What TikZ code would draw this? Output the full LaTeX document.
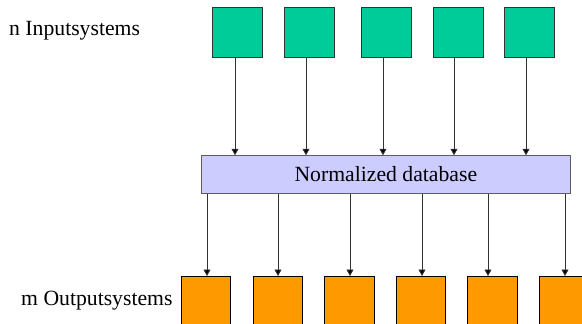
\documentclass[tikz,border=0pt]{standalone}
\usepackage{fontspec}
\setmainfont{Liberation Serif}
\usetikzlibrary{arrows.meta}
\definecolor{ingreen}{HTML}{00CC99}
\definecolor{outorange}{HTML}{FF9900}
\definecolor{dbblue}{HTML}{CCCCFF}
\definecolor{edgegrey}{HTML}{333333}
\tikzset{
  inbox/.style={draw=edgegrey, line width=0.9pt, fill=ingreen, minimum width=50pt, minimum height=50pt, inner sep=0pt, anchor=north west},
  outbox/.style={draw=black, line width=0.9pt, fill=outorange, minimum width=49.5pt, minimum height=52pt, inner sep=0pt, anchor=north west},
  dbbox/.style={draw=edgegrey!80, line width=0.9pt, fill=dbblue, minimum width=368.5pt, minimum height=37.6pt, inner sep=0pt, font=\fontsize{21.7}{26}\selectfont},
  lbl/.style={inner sep=0pt, anchor=base west, font=\fontsize{21.7}{26}\selectfont},
  arr/.style={draw=edgegrey, line width=0.9pt, -{Triangle[width=7pt,length=6.5pt,fill=black]}}
}
\begin{document}
\begin{tikzpicture}[x=1pt,y=1pt]
\useasboundingbox (0,0) rectangle (582,-324);
\clip (0,0) rectangle (582,-324);
\node[lbl] (lin) at (9,-35) {n Inputsystems};
\node[lbl] (lout) at (21,-305.7) {m Outputsystems};
\node[inbox] (i1) at (212,-7) {};
\node[inbox] (i2) at (284,-7) {};
\node[inbox] (i3) at (361,-7) {};
\node[inbox] (i4) at (433,-7) {};
\node[inbox] (i5) at (504,-7) {};
\node[dbbox] (db) at (385.85,-174.5) {Normalized database};
\node[outbox] (o1) at (180.5,-276) {};
\node[outbox] (o2) at (252.5,-276) {};
\node[outbox] (o3) at (324,-276) {};
\node[outbox] (o4) at (395.5,-276) {};
\node[outbox] (o5) at (467,-276) {};
\node[outbox] (o6) at (538.5,-276) {};
\draw[arr] (i1.south -| 235,0) -- (db.north -| 235,0);
\draw[arr] (i2.south -| 306,0) -- (db.north -| 306,0);
\draw[arr] (i3.south -| 383,0) -- (db.north -| 383,0);
\draw[arr] (i4.south -| 454,0) -- (db.north -| 454,0);
\draw[arr] (i5.south -| 526,0) -- (db.north -| 526,0);
\draw[arr] (db.south -| 207,0) -- (o1.north -| 207,0);
\draw[arr] (db.south -| 278,0) -- (o2.north -| 278,0);
\draw[arr] (db.south -| 350,0) -- (o3.north -| 350,0);
\draw[arr] (db.south -| 422,0) -- (o4.north -| 422,0);
\draw[arr] (db.south -| 488,0) -- (o5.north -| 488,0);
\draw[arr] (db.south -| 565,0) -- (o6.north -| 565,0);
\end{tikzpicture}
\end{document}
